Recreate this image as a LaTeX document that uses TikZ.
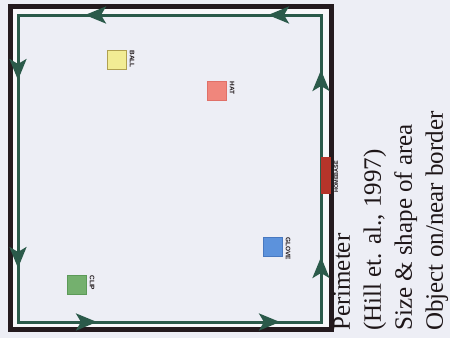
\documentclass[tikz,border=0pt]{standalone}
\usepackage{fontspec}
\setmainfont{Liberation Serif}
\setsansfont{Liberation Sans}
\usetikzlibrary{arrows.meta, calc, positioning, decorations.markings}
\definecolor{Canvas}{HTML}{EDEEF5}
\definecolor{Gap}{HTML}{F8F8FA}
\definecolor{Wall}{HTML}{241A1E}
\definecolor{Route}{HTML}{2B5A4A}
\definecolor{Ink}{HTML}{1E1618}
\definecolor{Home}{HTML}{B5342A}
\definecolor{BallFill}{HTML}{F2EC94}
\definecolor{BallLine}{HTML}{B0A050}
\definecolor{HatFill}{HTML}{F0867C}
\definecolor{HatLine}{HTML}{E07068}
\definecolor{GloveFill}{HTML}{5C92DC}
\definecolor{GloveLine}{HTML}{4878C0}
\definecolor{ClipFill}{HTML}{74B06E}
\definecolor{ClipLine}{HTML}{5C9A58}
\tikzset{head/.tip={Stealth[length=21pt,width=17pt,inset=5pt]}}

\begin{document}
\begin{tikzpicture}[
  x=1pt, y=-1pt,
  wall/.style={
    draw=Wall,
    line width=5pt,
    fill=Gap
  },
  route/.style={
    draw=Route,
    line width=3pt,
    fill=Canvas,
    postaction={decorate},
    decoration={markings,
      mark=at position 53pt with {\arrow{head}},
      mark=at position 236pt with {\arrow{head}},
      mark=at position 368pt with {\arrow{head}},
      mark=at position 556pt with {\arrow{head}},
      mark=at position 689pt with {\arrow{head}},
      mark=at position 872pt with {\arrow{head}},
      mark=at position 978pt with {\arrow{head}},
      mark=at position 1165pt with {\arrow{head}}
    }
  },
  object/.style={
    draw=#1Line,
    fill=#1Fill,
    line width=0.7pt,
    minimum width=19.5pt,
    minimum height=19pt,
    inner sep=0pt
  },
  tag/.style={
    font=\sffamily\bfseries\fontsize{6.5}{6.5}\selectfont,
    text=Ink,
    inner sep=0pt
  },
  caption/.style={
    font=\fontsize{25}{31}\selectfont,
    text=Ink,
    align=left,
    inner sep=0pt
  }
]

\fill[Canvas] (0,0) rectangle (450,338);
\useasboundingbox (0,0) rectangle (450,338);

% outer wall
\coordinate (wallnw) at (10,6);
\coordinate (wallse) at (331.5,329.5);
\draw[wall] (wallnw) rectangle (wallse);

% walking route round the area
\coordinate (tr) at (321,15);
\coordinate (tl) at (18,15);
\coordinate (bl) at (18,322);
\coordinate (br) at (321,322);
\draw[route] (tr) -- (tl) -- (bl) -- (br) -- cycle;

% home base on the border
\node[fill=Home, minimum width=10pt, minimum height=37pt, inner sep=0pt]
  (home) at (326,175) {};
\node[tag, font=\sffamily\bfseries\fontsize{5.5}{5.5}\selectfont,
  rotate=90, anchor=north west] (hometag) at (334,193) {HOMEBASE};

% objects
\node[object=Ball] (ball) at (117,60) {};
\node[object=Hat] (hat) at (217,91) {};
\node[object=Glove] (glove) at (273,247) {};
\node[object=Clip] (clip) at (77,285) {};

\node[tag, rotate=-90, anchor=south west] (balltag)
  at ([xshift=2.5pt]ball.north east) {BALL};
\node[tag, rotate=-90, anchor=south west] (hattag)
  at ([xshift=2.5pt]hat.north east) {HAT};
\node[tag, rotate=-90, anchor=south west] (glovetag)
  at ([xshift=2.5pt]glove.north east) {GLOVE};
\node[tag, rotate=-90, anchor=south west] (cliptag)
  at ([xshift=2.5pt]clip.north east) {CLIP};

\node[caption, rotate=90, anchor=north west] (perim) at (333,331)
  {Perimeter\\
   (Hill et. al., 1997)\\
   Size \& shape of area\\
   Object on/near border};

\end{tikzpicture}
\end{document}
